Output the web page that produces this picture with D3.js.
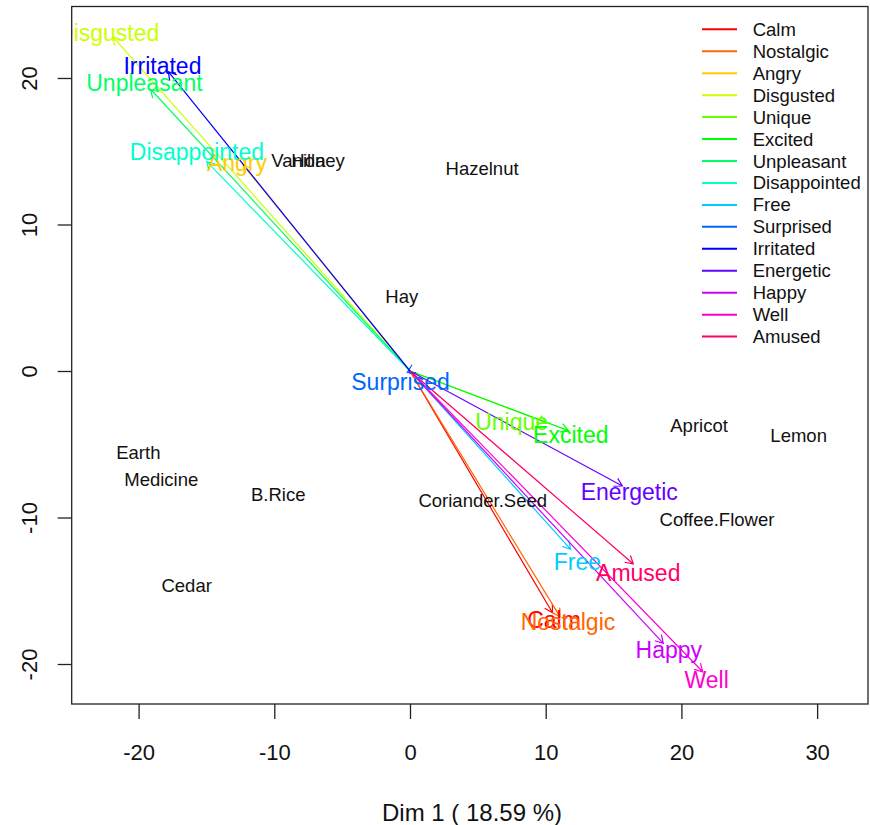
<!DOCTYPE html>
<html><head><meta charset="utf-8">
<script src="https://cdn.jsdelivr.net/npm/d3@7"></script>
<style>body{margin:0;background:#fff}</style>
</head><body>
<svg id="c" width="870" height="825"></svg>
<script>
// ---- data ----
const products = ["Vanilla","Honey","Hazelnut","Hay","Apricot","Lemon","Coffee.Flower","Earth","Medicine","B.Rice","Cedar","Coriander.Seed"];
const productDim1 = [-8.22,-6.78,5.31,-0.61,21.30,28.64,22.62,-20.02,-18.33,-9.71,-16.46,5.36];
const productDim2 = [14.40,14.40,13.84,5.07,-3.73,-4.37,-10.17,-5.58,-7.44,-8.46,-14.61,-8.81];

const emotions = ["Calm","Nostalgic","Angry","Disgusted","Unique","Excited","Unpleasant","Disappointed","Free","Surprised","Irritated","Energetic","Happy","Well","Amused"];
const emotionDim1 = [10.50,11.05,-12.31,-21.89,10.07,11.67,-19.11,-14.98,11.84,-0.20,-17.81,15.65,18.67,21.57,16.46];
const emotionDim2 = [-16.50,-16.77,14.06,22.80,-3.53,-4.07,19.23,14.29,-12.17,-0.10,20.43,-7.85,-18.59,-20.53,-13.17];
const emotionLabelDim1 = [10.61,11.64,-12.75,-22.24,7.49,11.85,-19.57,-15.70,12.33,-0.70,-18.24,16.16,19.07,21.86,16.82];
const emotionLabelDim2 = [-17.00,-17.11,14.18,23.06,-3.46,-4.37,19.64,14.97,-13.02,-0.73,20.84,-8.24,-19.04,-21.09,-13.77];
const emotionColors = ["#FF0000","#FF6600","#FFCC00","#CCFF00","#66FF00","#00FF00","#00FF66","#00FFCC","#00CCFF","#0066FF","#0000FF","#6600FF","#CC00FF","#FF00CC","#FF0066"];

const xTicks = [-20,-10,0,10,20,30];
const yTicks = [-20,-10,0,10,20];
const xTitle = "Dim 1 ( 18.59 %)";

// ---- layout ----
const FONT = "'Liberation Sans', Arial, sans-serif";
const L = 71.7, R = 868, T = 6.5, B = 704;
const x = d3.scaleLinear().domain([-24.93, 33.75]).range([L, R]);
const y = d3.scaleLinear().domain([-22.73, 24.88]).range([B, T]);
const fmt = d => String(d);

const svg = d3.select("#c");
svg.append("rect").attr("width",870).attr("height",825).attr("fill","#fff");

svg.append("defs").append("clipPath").attr("id","plotclip")
  .append("rect").attr("x",L).attr("y",T).attr("width",R-L).attr("height",B-T);

const plot = svg.append("g").attr("clip-path","url(#plotclip)");

// arrows
const emo = emotions.map((name,i)=>({name, x:emotionDim1[i], y:emotionDim2[i],
  lx:emotionLabelDim1[i], ly:emotionLabelDim2[i], color:emotionColors[i]}));

const headLen = 9, headAng = Math.PI/6;
emo.forEach(d=>{
  const x0 = x(0), y0 = y(0), x1 = x(d.x), y1 = y(d.y);
  const a = Math.atan2(y1-y0, x1-x0);
  const p = d3.path();
  p.moveTo(x0,y0); p.lineTo(x1,y1);
  p.moveTo(x1 - headLen*Math.cos(a-headAng), y1 - headLen*Math.sin(a-headAng));
  p.lineTo(x1,y1);
  p.lineTo(x1 - headLen*Math.cos(a+headAng), y1 - headLen*Math.sin(a+headAng));
  plot.append("path").attr("d",p.toString()).attr("fill","none")
    .attr("stroke",d.color).attr("stroke-width",1.2);
});

// product labels
products.forEach((name,i)=>{
  plot.append("text").attr("x",x(productDim1[i])).attr("y",y(productDim2[i]))
    .attr("text-anchor","middle").attr("dominant-baseline","central")
    .attr("font-family",FONT).attr("font-size",18.5).attr("fill","#111")
    .text(name);
});

// emotion labels
emo.forEach(d=>{
  plot.append("text").attr("x",x(d.lx)).attr("y",y(d.ly))
    .attr("text-anchor","middle").attr("dominant-baseline","central")
    .attr("font-family",FONT).attr("font-size",23).attr("fill",d.color)
    .text(d.name);
});

// box
svg.append("rect").attr("x",L).attr("y",T).attr("width",R-L).attr("height",B-T)
  .attr("fill","none").attr("stroke","#222").attr("stroke-width",1.3);

// x axis
const xa = svg.append("g").attr("transform",`translate(0,${B})`)
  .call(d3.axisBottom(x).tickValues(xTicks).tickSize(15).tickSizeOuter(0).tickFormat(fmt));
xa.select(".domain").remove();
xa.selectAll("line").attr("stroke","#222").attr("stroke-width",1.3);
xa.selectAll("text").attr("font-family",FONT).attr("font-size",22).attr("fill","#111")
  .attr("dy",null).attr("y",48).attr("dominant-baseline","central");

// y axis
const ya = svg.append("g").attr("transform",`translate(${L},0)`)
  .call(d3.axisLeft(y).tickValues(yTicks).tickSize(14).tickSizeOuter(0).tickFormat(fmt));
ya.select(".domain").remove();
ya.selectAll("line").attr("stroke","#222").attr("stroke-width",1.3);
ya.selectAll("text").attr("font-family",FONT).attr("font-size",22).attr("fill","#111")
  .attr("x",null).attr("dy",null).attr("text-anchor","middle").attr("dominant-baseline","central")
  .attr("transform",`translate(${30-L},0) rotate(-90)`);

// x title
svg.append("text").attr("x",472).attr("y",812).attr("text-anchor","middle")
  .attr("dominant-baseline","central").attr("font-family",FONT).attr("font-size",24)
  .attr("fill","#111").text(xTitle);

// legend
const lg = svg.append("g");
emo.forEach((d,i)=>{
  const yy = 29.3 + i*21.95;
  lg.append("line").attr("x1",702).attr("x2",737).attr("y1",yy).attr("y2",yy)
    .attr("stroke",d.color).attr("stroke-width",2);
  lg.append("text").attr("x",752.7).attr("y",yy).attr("dominant-baseline","central")
    .attr("font-family",FONT).attr("font-size",18.5).attr("fill","#111").text(d.name);
});
</script>
</body></html>
